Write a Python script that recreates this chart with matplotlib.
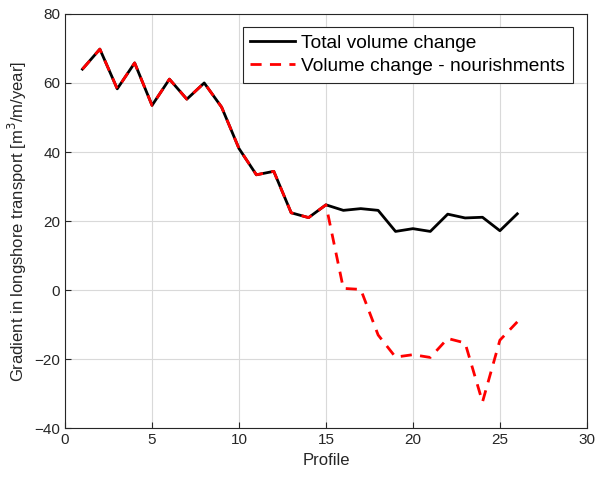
import numpy as np
import matplotlib.pyplot as plt

plt.rcParams['font.family'] = ['Liberation Sans', 'DejaVu Sans']

profiles = list(range(1, 27))
total_change = [64.0, 69.8, 58.3, 65.8, 53.5, 61.1, 55.3, 60.0, 53.0, 41.0,
                33.4, 34.4, 22.4, 21.0, 24.7, 23.1, 23.6, 23.1, 17.0, 17.8,
                17.0, 22.0, 20.9, 21.1, 17.2, 22.1]
minus_nourish = [64.0, 69.8, 58.3, 65.8, 53.5, 61.1, 55.3, 60.0, 53.0, 41.0,
                 33.4, 34.4, 22.4, 21.0, 24.7, 0.5, 0.2, -13.0, -19.4, -18.7,
                 -19.5, -14.0, -15.3, -32.4, -14.5, -9.2]

fig = plt.figure(figsize=(5.97, 4.79), dpi=100)
ax = fig.add_axes([0.109, 0.106, 0.874, 0.865])

ax.plot(profiles, total_change, color='black', linewidth=2.0,
        label='Total volume change')
ax.plot(profiles, minus_nourish, color='red', linewidth=2.0,
        linestyle=(0, (4, 3)), label='Volume change - nourishments')

ax.set_xlim(0, 30)
ax.set_ylim(-40, 80)
ax.set_xticks(np.arange(0, 31, 5))
ax.set_yticks(np.arange(-40, 81, 20))
ax.grid(True, color='#d9d9d9', linewidth=0.8)
ax.set_axisbelow(True)
ax.tick_params(direction='in', length=4, labelsize=11, colors='#262626')
for s in ax.spines.values():
    s.set_color('#262626')
    s.set_linewidth(0.8)

ax.set_xlabel('Profile', fontsize=12, color='#262626')
ax.set_ylabel('Gradient in longshore transport [m$^3$/m/year]', fontsize=12,
              color='#262626')

leg = ax.legend(loc='upper right', bbox_to_anchor=(0.973, 0.969), fontsize=13.8,
                fancybox=False, framealpha=1, edgecolor='#262626',
                handlelength=2.3, handletextpad=0.35, borderpad=0.4,
                labelspacing=0.3, borderaxespad=0)
leg.get_frame().set_linewidth(0.8)

fig.savefig('out.png', dpi=100)
